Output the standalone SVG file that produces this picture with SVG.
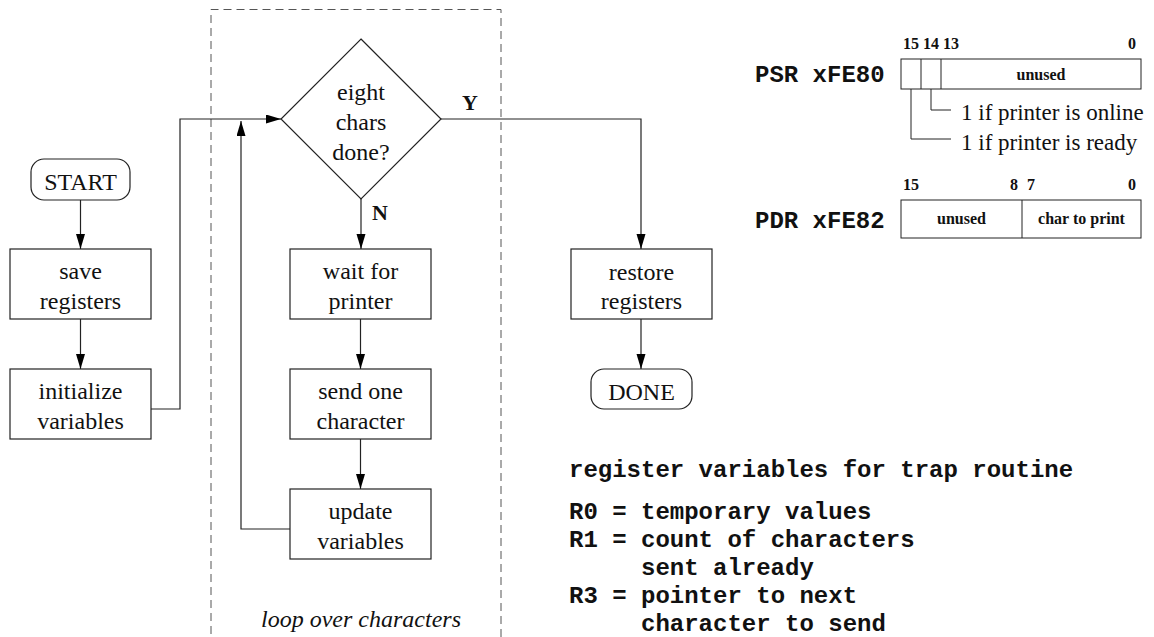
<svg xmlns="http://www.w3.org/2000/svg" width="1154" height="637" viewBox="0 0 1154 637">
<defs>
<marker id="ah" markerUnits="userSpaceOnUse" markerWidth="16" markerHeight="10" refX="15" refY="4.5" orient="auto">
<path d="M0,0 L15,4.5 L0,9 z" fill="#000"/>
</marker>
<style>
.box{fill:#fff;stroke:#222;stroke-width:1.2}
.reg{fill:#fff;stroke:#222;stroke-width:1}
.lead{fill:none;stroke:#222;stroke-width:1}
.arr{fill:none;stroke:#222;stroke-width:1.2;marker-end:url(#ah)}
.t{font-family:"Liberation Serif","Times New Roman",serif;font-size:24px;fill:#111;text-anchor:middle}
.lbl{font-family:"Liberation Serif","Times New Roman",serif;font-size:22px;font-weight:bold;fill:#111}
.it{font-family:"Liberation Serif","Times New Roman",serif;font-size:24px;font-style:italic;fill:#111;text-anchor:middle}
.m{font-family:"Liberation Mono","Courier New",monospace;font-size:24px;font-weight:bold;fill:#111}
.bn{font-family:"Liberation Serif","Times New Roman",serif;font-size:16px;font-weight:bold;fill:#111}
.bc{font-family:"Liberation Serif","Times New Roman",serif;font-size:16px;font-weight:bold;fill:#111;text-anchor:middle}
.ann{font-family:"Liberation Serif","Times New Roman",serif;font-size:23px;fill:#111}
</style>
</defs>
<rect width="1154" height="637" fill="#fff"/>

<g id="loop-frame">
<path d="M211,660 L211,9.5 L501,9.5 L501,660" fill="none" stroke="#555" stroke-width="1" stroke-dasharray="8 5"/>
<text class="it" x="361" y="627">loop over characters</text>
</g>

<g id="connectors">
<line class="arr" x1="80.5" y1="200" x2="80.5" y2="249"/>
<line class="arr" x1="80.5" y1="319" x2="80.5" y2="369"/>
<polyline class="arr" points="151,409 180,409 180,119 281,119"/>
<polyline class="arr" points="290,529 241,529 241,121"/>
<line class="arr" x1="361" y1="199" x2="361" y2="249"/>
<line class="arr" x1="360.5" y1="319" x2="360.5" y2="369"/>
<line class="arr" x1="360.5" y1="439" x2="360.5" y2="489"/>
<polyline class="arr" points="441,119 641,119 641,249"/>
<line class="arr" x1="641" y1="319" x2="641" y2="369"/>
<text class="lbl" x="462" y="110">Y</text>
<text class="lbl" x="372" y="220">N</text>
</g>

<g id="start">
<rect class="box" x="31" y="159" width="99" height="41" rx="13"/>
<text class="t" x="80.5" y="190">START</text>
</g>
<g id="save-registers">
<rect class="box" x="10" y="249" width="141" height="70"/>
<text class="t" x="80.5" y="279">save</text>
<text class="t" x="80.5" y="309">registers</text>
</g>
<g id="initialize-variables">
<rect class="box" x="10" y="369" width="141" height="70"/>
<text class="t" x="80.5" y="399">initialize</text>
<text class="t" x="80.5" y="429">variables</text>
</g>
<g id="decision">
<polygon class="box" points="361,39 441,119 361,199 281,119"/>
<text class="t" x="361" y="100">eight</text>
<text class="t" x="361" y="130">chars</text>
<text class="t" x="361" y="160">done?</text>
</g>
<g id="wait-for-printer">
<rect class="box" x="290" y="249" width="141" height="70"/>
<text class="t" x="360.5" y="279">wait for</text>
<text class="t" x="360.5" y="309">printer</text>
</g>
<g id="send-one-character">
<rect class="box" x="290" y="369" width="141" height="70"/>
<text class="t" x="360.5" y="399">send one</text>
<text class="t" x="360.5" y="429">character</text>
</g>
<g id="update-variables">
<rect class="box" x="290" y="489" width="141" height="70"/>
<text class="t" x="360.5" y="519">update</text>
<text class="t" x="360.5" y="549">variables</text>
</g>
<g id="restore-registers">
<rect class="box" x="571" y="249" width="141" height="70"/>
<text class="t" x="641.5" y="280">restore</text>
<text class="t" x="641.5" y="309">registers</text>
</g>
<g id="done">
<rect class="box" x="591" y="369" width="101" height="40" rx="13"/>
<text class="t" x="641.5" y="400">DONE</text>
</g>

<g id="psr">
<text class="m" x="755" y="82">PSR xFE80</text>
<text class="bn" x="903" y="49">15</text>
<text class="bn" x="923" y="49">14</text>
<text class="bn" x="943" y="49">13</text>
<text class="bn" x="1136" y="49" text-anchor="end">0</text>
<rect class="reg" x="901" y="59" width="240" height="30"/>
<line class="lead" x1="921" y1="59" x2="921" y2="89"/>
<line class="lead" x1="941" y1="59" x2="941" y2="89"/>
<text class="bc" x="1041" y="80">unused</text>
<polyline class="lead" points="931,89 931,110 951,110"/>
<polyline class="lead" points="911,89 911,139 951,139"/>
<text class="ann" x="961" y="120">1 if printer is online</text>
<text class="ann" x="961" y="150">1 if printer is ready</text>
</g>

<g id="pdr">
<text class="m" x="755" y="228">PDR xFE82</text>
<text class="bn" x="903" y="190">15</text>
<text class="bn" x="1018" y="190" text-anchor="end">8</text>
<text class="bn" x="1027" y="190">7</text>
<text class="bn" x="1136" y="190" text-anchor="end">0</text>
<rect class="reg" x="901" y="200" width="240" height="38"/>
<line class="lead" x1="1022" y1="200" x2="1022" y2="238"/>
<text class="bc" x="961.5" y="224">unused</text>
<text class="bc" x="1081.5" y="224">char to print</text>
</g>

<g id="register-notes">
<text class="m" x="569" y="477">register variables for trap routine</text>
<text class="m" x="569" y="519">R0 = temporary values</text>
<text class="m" x="569" y="547">R1 = count of characters</text>
<text class="m" x="641" y="575">sent already</text>
<text class="m" x="569" y="603">R3 = pointer to next</text>
<text class="m" x="641" y="631">character to send</text>
</g>
</svg>
